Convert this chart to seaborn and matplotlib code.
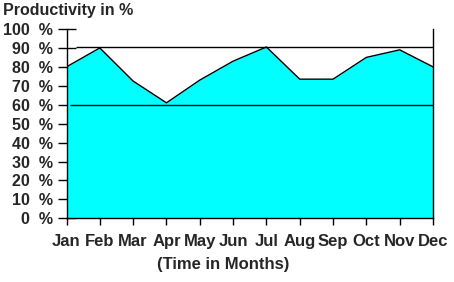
import matplotlib
matplotlib.use("Agg")
import matplotlib.pyplot as plt
import seaborn as sns
import pandas as pd

months = ["Jan", "Feb", "Mar", "Apr", "May", "Jun", "Jul", "Aug", "Sep", "Oct", "Nov", "Dec"]
productivity = [80, 90, 72.5, 61, 73, 83, 90.5, 73.5, 73.5, 85, 89, 80]
upper_line = 90.7
lower_line = 60
yticks = [0, 10, 20, 30, 40, 50, 60, 70, 80, 90, 100]
ytick_labels = [f"{v}  %" for v in yticks]

sns.set_theme(style="white")
plt.rcParams['font.family'] = ['Liberation Sans', 'DejaVu Sans']

df = pd.DataFrame({"idx": range(len(months)), "month": months, "value": productivity})

fig = plt.figure(figsize=(4.54, 2.82), dpi=100)
ax = fig.add_axes([66.5/454, 1-218.3/282, (433-66.5)/454, (218.3-29)/282])

ax.fill_between(df["idx"], df["value"], 0, color="#00FFFF", linewidth=0)
sns.lineplot(data=df, x="idx", y="value", ax=ax, color="black", linewidth=1.0)
ax.hlines(upper_line, 0.3, 11, color="black", linewidth=1.0)
ax.hlines(lower_line, 0.1, 11, color="black", linewidth=1.0)

ax.set_xlim(0, 11)
ax.set_ylim(0, 100)
ax.set_xticks(range(len(months)))
ax.set_xticklabels(months, fontsize=12, fontweight="bold")
ax.set_yticks(yticks)
ax.set_yticklabels(ytick_labels, fontsize=11.5, fontweight="bold")
ax.tick_params(axis="x", direction="out", length=5, width=1, color="black", pad=6.5, bottom=True)
ax.tick_params(axis="y", direction="inout", length=13, width=1, color="black", pad=3, left=True)
ax.set_xlabel("")
ax.set_ylabel("")

for side in ["left", "bottom", "right"]:
    ax.spines[side].set_visible(True)
    ax.spines[side].set_color("black")
    ax.spines[side].set_linewidth(1.0)
ax.spines["top"].set_visible(False)
ax.set_facecolor("white")

fig.text(3/454, 1-3/282, "Productivity in %", fontsize=11.5, fontweight="bold", ha="left", va="top")
fig.text(223/454, 1-264/282, "(Time in Months)", fontsize=12, fontweight="bold", ha="center", va="center")

fig.savefig("out.png", dpi=100)
